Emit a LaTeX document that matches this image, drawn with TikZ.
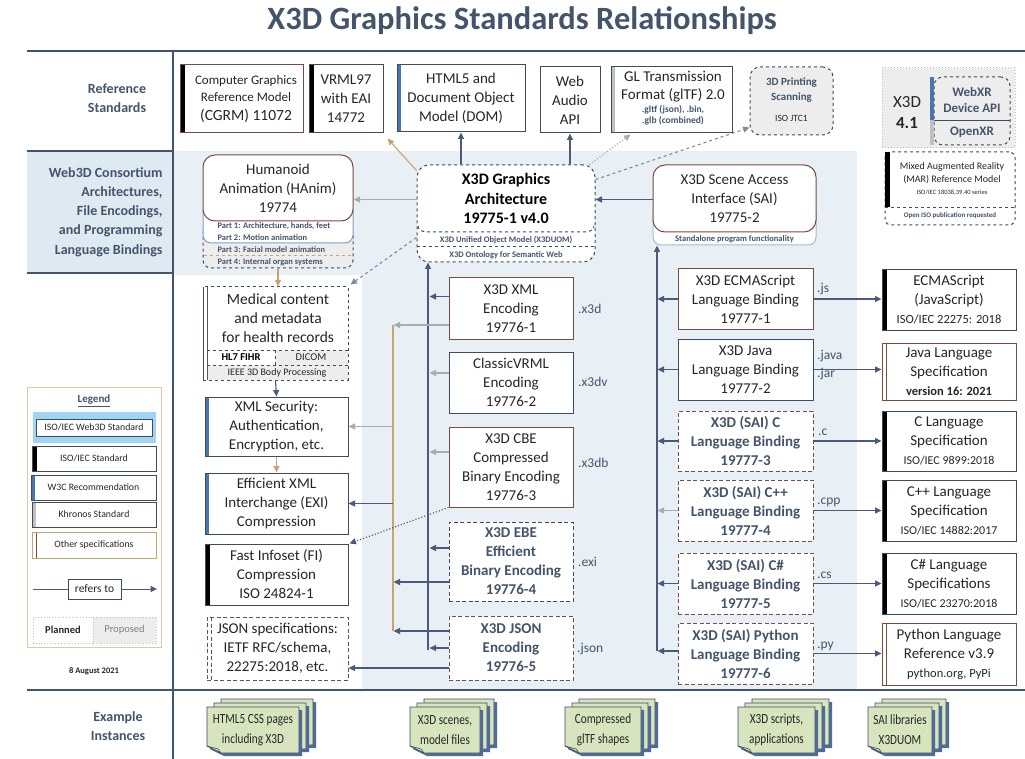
\documentclass[tikz,border=0pt]{standalone}
\usepackage{fontspec}
\setmainfont{Carlito}
\newfontfamily\condf[FakeStretch=0.8]{Carlito}
\usetikzlibrary{arrows.meta,calc}
\definecolor{slate}{HTML}{44546A}
\definecolor{bordc}{HTML}{3F4B63}
\definecolor{brownc}{HTML}{7A4B3F}
\definecolor{bgblue}{HTML}{E8F0F5}
\definecolor{lblue}{HTML}{DEE9F1}
\definecolor{arrB}{HTML}{4A5A78}
\definecolor{arrG}{HTML}{A9ADB3}
\definecolor{arrO}{HTML}{C9A46C}
\definecolor{w3cb}{HTML}{4A76A8}
\definecolor{khrg}{HTML}{C0C0C0}
\definecolor{grayfill}{HTML}{EDEDED}
\definecolor{greenf}{HTML}{D7E4BD}
\definecolor{shad}{HTML}{4E6C99}
\definecolor{txtc}{HTML}{262626}
\definecolor{skyb}{HTML}{A0D4F5}
\newcommand{\fsz}[2]{\fontsize{#1}{#2}\selectfont}
\newcommand{\docstack}[6]{%
 \foreach \dx/\dy in {14/-8,7/-4,0/0}{
  \fill[shad] ({#2+\dx+3},{#3+\dy+3}) -- ++(#4,0) -- ++(0,#5) -- ({#2+\dx+17},{#3+\dy+3+#5}) -- ({#2+\dx+3},{#3+\dy+#5-4}) -- cycle;
  \filldraw[fill=greenf, draw=bordc, line width=0.7pt] ({#2+\dx},{#3+\dy}) -- ++(#4,0) -- ++(0,#5) -- ({#2+\dx+14},{#3+\dy+#5}) -- ({#2+\dx},{#3+\dy+#5-7}) -- cycle;
  \draw[bordc, line width=0.6pt] ({#2+\dx},{#3+\dy+#5-7}) -- ({#2+\dx+11},{#3+\dy+#5-4}) -- ({#2+\dx+14},{#3+\dy+#5});
 }
 \node[font=\condf\fsz{14}{20}, text=txtc, align=center] (#1) at ({#2+#4/2},{#3+#5/2}) {#6};
}
\begin{document}
\begin{tikzpicture}[x=1pt,y=-1pt,
 box/.style={draw=bordc, line width=1pt, fill=white, align=center, inner sep=0pt, font=\fsz{15}{19}, text=txtc},
 dbox/.style={box, dashed, dash pattern=on 4pt off 2.5pt},
 bb/.style={font=\bfseries\fsz{15}{19}, text=slate},
 isobar/.style={path picture={\fill[black] (path picture bounding box.north west) rectangle ([xshift=5pt]path picture bounding box.south west);}},
 w3cbar/.style={path picture={\fill[w3cb] (path picture bounding box.north west) rectangle ([xshift=4pt]path picture bounding box.south west);}},
 khrbar/.style={path picture={\fill[khrg] (path picture bounding box.north west) rectangle ([xshift=4pt]path picture bounding box.south west);}},
 otherbar/.style={path picture={\draw[brownc, line width=0.9pt] ([xshift=4pt]path picture bounding box.north west) -- ([xshift=4pt]path picture bounding box.south west);}},
 lbl/.style={font=\bfseries\fsz{14}{19.2}, text=slate, align=center},
 sm/.style={font=\bfseries\fsz{8.5}{10}, text=slate},
 ext/.style={font=\fsz{13.5}{16}, text=slate, anchor=west, inner sep=0pt},
 arr/.style={-{Triangle[length=6.5pt,width=6pt]}, line width=1.1pt},
 aB/.style={arr, color=arrB},
 aG/.style={arr, color=arrG},
 aO/.style={arr, color=arrO}]
\useasboundingbox (0,0) rectangle (1025,759);
\fill[white] (0,0) rectangle (1025,759);
% backgrounds
\fill[lblue] (27,151) rectangle (173,273);
\fill[bgblue] (173,151) rectangle (857,275);
\fill[bgblue] (362,275) rectangle (857,690);
% frame
\draw[slate, line width=1.8pt] (27,51) -- (1025,51);
\draw[slate, line width=1.8pt] (173,51) -- (173,759);
\draw[slate, line width=1.5pt] (27,151) -- (173,151);
\draw[slate, line width=1.5pt] (27,273) -- (173,273);
\draw[slate, line width=1.8pt] (27,690) -- (1025,690);
% title and row labels
\node[font=\bfseries\fsz{32.5}{38}, text=slate] (title) at (522,21) {X3D Graphics Standards Relationships};
\node[lbl] (lref) at (117,98) {Reference\\Standards};
\node[lbl, align=right, anchor=east] (lweb) at (166,212) {Web3D Consortium\\Architectures,\\File Encodings,\\and Programming\\Language Bindings};
\node[lbl] (lex) at (118,726) {Example\\Instances};

% ---------- reference standards
\node[box, isobar, draw=brownc, minimum width=123, minimum height=68] (cgrm) at (241.5,99) {};
\node[font=\fsz{13}{15}, text=txtc] (cgrm1) at (246,81) {Computer Graphics};
\node[font=\fsz{13}{15}, text=txtc] (cgrm2) at (246,97) {Reference Model};
\node[font=\fsz{15.5}{19}, text=txtc] (cgrm3) at (246,116) {(CGRM) 11072};
\node[box, isobar, minimum width=74, minimum height=68] (vrml) at (346,99) {VRML97\\with EAI\\14772};
\node[box, w3cbar, minimum width=128, minimum height=67] (html) at (461,98.5) {HTML5 and\\Document Object\\Model (DOM)};
\node[box, minimum width=60, minimum height=66] (audio) at (570,100) {Web\\Audio\\API};
\node[box, khrbar, minimum width=121, minimum height=66] (gltf) at (671.5,100) {};
\node[font=\fsz{15}{19}, text=txtc] (gltf1) at (673,76) {GL Transmission};
\node[font=\fsz{15}{19}, text=txtc] (gltf2) at (673,95) {Format (glTF) 2.0};
\node[font=\bfseries\fsz{9.5}{11}, text=slate] (gltf3) at (673,110) {.gltf (json), .bin,};
\node[font=\bfseries\fsz{9.5}{11}, text=slate] (gltf4) at (673,121) {.glb (combined)};
\node[box, dashed, rounded corners=10pt, fill=grayfill, minimum width=83, minimum height=68] (print3d) at (791.5,101) {};
\node[font=\bfseries\fsz{11}{13}, text=slate] (pr1) at (791.5,83) {3D Printing};
\node[font=\bfseries\fsz{11}{13}, text=slate] (pr2) at (791.5,98) {Scanning};
\node[font=\fsz{9.5}{11}, text=txtc] (pr3) at (791.5,118) {ISO JTC1};
% X3D 4.1 group
\node[draw=khrg, dotted, line width=1pt, fill=grayfill, minimum width=133, minimum height=80, inner sep=0pt] (x41) at (948.5,108) {};
\node[font=\fsz{17}{21}, text=txtc, align=center] (x41t) at (907,113) {X3D\\\textbf{4.1}};
\node[draw=bordc, dashed, line width=1pt, rounded corners=9pt, fill=grayfill, minimum width=76, minimum height=68, inner sep=0pt] (webxr) at (972,111) {};
\fill[w3cb] (930,77) rectangle (934,120);
\fill[khrg] (930,120) rectangle (934,145);
\draw[bordc, line width=0.6pt] (934,120) -- (1010,120);
\node[font=\bfseries\fsz{13}{16}, text=slate, align=center] (webxr1) at (972,100) {WebXR\\Device API};
\node[font=\bfseries\fsz{13}{16}, text=slate] (openxr) at (972,132) {OpenXR};
\node[draw=bordc, dashed, line width=1pt, rounded corners=6pt, fill=white, minimum width=130, minimum height=73, inner sep=0pt] (mar) at (950,188.5) {};
\fill[black] (885,152) rectangle (890,207);
\draw[bordc, dashed, line width=0.8pt] (885,207) -- (1015,207);
\node[font=\fsz{10}{12}, text=txtc] (mar1) at (952,167) {Mixed Augmented Reality};
\node[font=\fsz{10}{12}, text=txtc] (mar2) at (952,180) {(MAR) Reference Model};
\node[font=\fsz{6.5}{8}, text=txtc] (mar3) at (952,193) {ISO/IEC 18038,39,40 series};
\node[font=\bfseries\fsz{7}{8}, text=slate] (mar4) at (950,216) {Open ISO publication requested};

% ---------- Web3D row
\node[draw=bordc, dashed, line width=1pt, fill=grayfill, rounded corners=8pt, minimum width=150, minimum height=43, inner sep=0pt] (hparts) at (278,246.5) {};
\draw[arrO, dashed, line width=0.8pt] (204,255) -- (352,255);
\node[draw=w3cb!70, line width=1pt, fill=white, rounded corners=8pt, minimum width=150, minimum height=40, inner sep=0pt] (hparts2) at (278,223) {};
\node[box, rounded corners=12pt, draw=brownc, minimum width=150, minimum height=66] (hanim) at (278,188) {Humanoid\\Animation (HAnim)\\19774};
\node[sm, anchor=west] (hp1) at (214,226) {Part 1: Architecture, hands, feet};
\node[sm, anchor=west] (hp2) at (214,238) {Part 2: Motion animation};
\node[sm, anchor=west] (hp3) at (214,250) {Part 3: Facial model animation};
\node[sm, anchor=west] (hp4) at (214,262) {Part 4: Internal organ systems};

\node[box, dashed, rounded corners=12pt, minimum width=178, minimum height=97] (arch) at (506,213.5) {};
\node[font=\bfseries\fsz{16}{19.5}, text=black, align=center] (archt) at (506,198.5) {X3D Graphics\\Architecture\\19775-1 v4.0};
\draw[bordc, dashed, line width=1pt] (418,226) to[out=-90,in=180] (428,232) -- (584,232) to[out=0,in=-90] (594,226);
\draw[bordc, dashed, line width=1pt] (417,247) -- (595,247);
\node[sm] (arch1) at (506,240) {X3D Unified Object Model (X3DUOM)};
\node[sm] (arch2) at (506,255) {X3D Ontology for Semantic Web};

\node[draw=w3cb!50, line width=1pt, fill=white, rounded corners=8pt, minimum width=163, minimum height=40, inner sep=0pt] (saib) at (734.5,225) {};
\node[box, rounded corners=12pt, draw=brownc, minimum width=163, minimum height=67] (sai) at (734.5,198.5) {X3D Scene Access\\Interface (SAI)\\19775-2};
\node[sm] (sai1) at (734.5,239) {Standalone program functionality};

% ---------- left column
\node[box, dashed, minimum width=145, minimum height=93] (med) at (275.5,333.5) {};
\fill[grayfill] (275,350) rectangle (348,365);
\fill[grayfill] (207,365) rectangle (348,380);
\draw[bordc, dashed, line width=0.8pt] (207,350) -- (348,350);
\draw[bordc, dashed, line width=0.8pt] (207,365) -- (348,365);
\draw[bordc, dashed, line width=0.8pt] (275,350) -- (275,365);
\draw[bordc, line width=1pt] (203,287) -- (203,380);
\draw[brownc, line width=1pt] (207,287) -- (207,380);
\node[font=\fsz{15.5}{19}, text=txtc, align=center] (medt) at (278,318) {Medical content\\and metadata\\for health records};
\node[font=\bfseries\fsz{10.5}{12}, text=black] (hl7) at (241,357.5) {HL7 FIHR};
\node[font=\fsz{10.5}{12}, text=txtc] (dicom) at (311,357.5) {DICOM};
\node[font=\fsz{10}{12}, text=txtc] (ieee) at (277,373) {IEEE 3D Body Processing};

\node[box, w3cbar, minimum width=143, minimum height=59] (xmlsec) at (276.5,426.5) {XML Security:\\Authentication,\\Encryption, etc.};
\node[box, w3cbar, minimum width=143, minimum height=61] (exi) at (276.5,503.5) {Efficient XML\\Interchange (EXI)\\Compression};
\node[box, isobar, minimum width=143, minimum height=61] (fi) at (276.5,574.5) {Fast Infoset (FI)\\Compression\\ISO 24824-1};
\node[dbox, otherbar, draw=brownc, minimum width=141, minimum height=63] (jsonspec) at (277.5,648.5) {JSON specifications:\\IETF RFC/schema,\\22275:2018, etc.};

% ---------- encodings
\node[box, draw=brownc, minimum width=124, minimum height=61] (xmlenc) at (511,308.5) {X3D XML\\Encoding\\19776-1};
\node[box, minimum width=124, minimum height=61] (vrmlenc) at (511,382.5) {ClassicVRML\\Encoding\\19776-2};
\node[box, draw=brownc, minimum width=124, minimum height=80] (cbe) at (511,467) {X3D CBE\\Compressed\\Binary Encoding\\19776-3};
\node[dbox, bb, minimum width=124, minimum height=79] (ebe) at (511,561.5) {X3D EBE\\Efficient\\Binary Encoding\\19776-4};
\node[dbox, bb, draw=brownc, minimum width=124, minimum height=64] (jsonenc) at (511,648) {X3D JSON\\Encoding\\19776-5};
\node[ext] (e1) at (578,309) {.x3d};
\node[ext] (e2) at (578,382) {.x3dv};
\node[ext] (e3) at (578,463) {.x3db};
\node[ext] (e4) at (578,562) {.exi};
\node[ext] (e5) at (577,649) {.json};

% ---------- bindings
\node[box, draw=brownc, minimum width=135, minimum height=60] (ecma) at (745.5,299) {X3D ECMAScript\\Language Binding\\19777-1};
\node[box, minimum width=135, minimum height=61] (javab) at (745.5,369.5) {X3D Java\\Language Binding\\19777-2};
\node[dbox, bb, draw=brownc, minimum width=135, minimum height=60] (cb) at (745.5,441) {X3D (SAI) C\\Language Binding\\19777-3};
\node[dbox, bb, draw=brownc, minimum width=135, minimum height=61] (cppb) at (745.5,510.5) {X3D (SAI) C++\\Language Binding\\19777-4};
\node[dbox, bb, draw=brownc, minimum width=135, minimum height=61] (csb) at (745.5,583.5) {X3D (SAI) C\#\\Language Binding\\19777-5};
\node[dbox, bb, draw=brownc, minimum width=135, minimum height=61] (pyb) at (745.5,653.5) {X3D (SAI) Python\\Language Binding\\19777-6};
\node[ext] (b1) at (817,289) {.js};
\node[ext] (b2) at (817,356) {.java};
\node[ext] (b2b) at (817,374) {.jar};
\node[ext] (b3) at (818,432) {.c};
\node[ext] (b4) at (817,502) {.cpp};
\node[ext] (b5) at (817,575) {.cs};
\node[ext] (b6) at (817,646) {.py};

% ---------- language specs
\node[box, isobar, minimum width=134, minimum height=60] (ecmas) at (949,300) {ECMAScript\\(JavaScript)\\{\fsz{12.5}{15}ISO/IEC 22275: 2018}};
\node[box, otherbar, draw=brownc, minimum width=134, minimum height=57] (javas) at (949,371.5) {Java Language\\Specification\\{\bfseries\fsz{12.5}{15}version 16: 2021}};
\node[box, isobar, minimum width=134, minimum height=60] (cs) at (949,441) {C Language\\Specification\\{\fsz{12}{15}ISO/IEC 9899:2018}};
\node[box, isobar, minimum width=134, minimum height=61] (cpps) at (949,510.5) {C++ Language\\Specification\\{\fsz{12}{15}ISO/IEC 14882:2017}};
\node[box, isobar, minimum width=134, minimum height=61] (css) at (949,583.5) {C\# Language\\Specifications\\{\fsz{12}{15}ISO/IEC 23270:2018}};
\node[box, otherbar, draw=brownc, minimum width=134, minimum height=62] (pys) at (949,654) {Python Language\\Reference v3.9\\{\fsz{12.5}{15}python.org, PyPi}};

% ---------- legend
\node[draw=arrO!60, line width=0.8pt, minimum width=134, minimum height=260, inner sep=0pt] (legend) at (94,517) {};
\node[font=\bfseries\fsz{11}{13}, text=slate] (legt) at (94,401) {\underline{Legend}};
\node[fill=skyb, minimum width=123, minimum height=31, inner sep=0pt] (lgw) at (94.5,427.5) {};
\node[draw=bordc, line width=0.8pt, fill=white, minimum width=116, minimum height=17, inner sep=0pt, font=\fsz{9.8}{11}, text=txtc] (lgw2) at (94,427.5) {ISO/IEC Web3D Standard};
\node[box, isobar, line width=0.8pt, font=\fsz{9.8}{11}, minimum width=124, minimum height=25] (lgi) at (94,458.5) {ISO/IEC Standard};
\node[box, w3cbar, line width=0.8pt, font=\fsz{9.8}{11}, minimum width=125, minimum height=25] (lgc) at (93.5,487.5) {W3C Recommendation};
\node[box, khrbar, line width=0.8pt, font=\fsz{9.8}{11}, minimum width=124, minimum height=25] (lgk) at (94,514.5) {Khronos Standard};
\node[box, otherbar, draw=arrO, line width=0.8pt, font=\fsz{9.8}{11}, minimum width=124, minimum height=26] (lgo) at (94,545) {Other specifications};
\coordinate (lgra) at (33,589);
\coordinate (lgrb) at (157,589);
\node[box, line width=0.8pt, font=\fsz{11.5}{13}, minimum width=53, minimum height=20] (lgr) at (94.5,589) {refers to};
\draw[arrB, line width=1pt] (lgra) -- (lgr);
\draw[aB, line width=1pt] (lgr) -- (lgrb);
\node[draw=khrg, dotted, line width=0.8pt, fill=white, minimum width=60, minimum height=26, inner sep=0pt, font=\bfseries\fsz{10.5}{12}, text=txtc] (lgp) at (63,630) {Planned};
\node[draw=khrg, dotted, line width=0.8pt, fill=grayfill, minimum width=63, minimum height=26, inner sep=0pt, font=\fsz{10.5}{12}, text=gray] (lgq) at (124.5,630) {Proposed};
\node[font=\bfseries\fsz{8.5}{10}, text=txtc] (date) at (94,671) {8 August 2021};

% ---------- connectors
\draw[aO] ($(arch.north west)+(0,6)$) -- ($(vrml.south east)+(4,5)$);
\draw[aB] (arch.north -| html.south) -- (html.south);
\draw[aB] (arch.north -| audio.south) -- (audio.south);
\draw[aG, dotted, line width=1.3pt] ($(arch.north east)+(-6,0)$) -- ($(gltf.south west)+(20,1)$);
\draw[aB, dashed, color=arrB!70] ($(arch.north east)+(0,15)$) -- ($(print3d.south west)+(0,-8)$);
\draw[aG] ($(arch.north west)+(0,35)$) -- ($(hanim.north east)+(0,45)$);
\draw[aB] ($(sai.north west)+(0,35)$) -- ($(arch.north east)+(0,35)$);
\draw[aB, dashed, color=arrB!70] ($(arch.south west)+(0,-25)$) -- ($(med.north east)+(2,-2)$);
\draw[aO] (hparts.south) -- (hparts.south |- med.north);
\draw[aB] (med.south) -- (xmlsec.north);
\draw[aO] (xmlsec.south) -- (exi.north);
% encodings bus to architecture
\coordinate (busA) at (428,650);
\draw[aB] (busA) -- (busA |- arch.south);
\draw[aB] ([yshift=12pt]xmlenc.west) -- ++(-19,0);
\draw[aG] ([yshift=9.5pt]vrmlenc.west) -- ++(-19,0);
\draw[aG] ([yshift=15pt]cbe.west) -- ++(-19,0);
\draw[aB] ([yshift=13.5pt]ebe.west) -- ++(-19,0);
\draw[aB] (jsonenc.west) -- ++(-19,0);
% orange bus to XML-related specs
\coordinate (obusT) at (393,325);
\coordinate (obusB) at (393,631);
\draw[arrO, line width=1.1pt] (obusT) -- (obusB);
\draw[aG] ([yshift=-16.5pt]xmlenc.west) -- ++(-55,0);
\draw[aB] ([yshift=-20.5pt]ebe.west) -- ++(-55,0);
\draw[aB] ([yshift=17pt]jsonenc.west) -- ++(-55,0);
\draw[aG] (obusT |- xmlsec.east) -- (xmlsec.east);
\draw[aB] (obusT |- exi.east) -- (exi.east);
\draw[aB, dotted, line width=1.2pt] (cbe.south west) -- ($(fi.north east)+(1,0)$);
\draw[aB] ([yshift=-20pt]jsonenc.west) -- ++(-100,0);
% bindings bus to SAI
\coordinate (sbus) at (657,651);
\draw[aB] (sbus) -- (sbus |- saib.south);
\draw[aB] (ecma.west) -- ++(-20,0);
\draw[aB] (javab.west) -- ++(-20,0);
\draw[aB] (cb.west) -- ++(-20,0);
\draw[aG] (cppb.west) -- ++(-20,0);
\draw[aB] (csb.west) -- ++(-20,0);
\draw[aB] ([yshift=2.5pt]pyb.west) -- ++(-20,0);
% bindings to language specs
\draw[aB] (ecma.east) -- (ecma.east -| ecmas.west);
\draw[aB] (javab.east) -- (javab.east -| javas.west);
\draw[aB] (cb.east) -- (cb.east -| cs.west);
\draw[aB] (cppb.east) -- (cppb.east -| cpps.west);
\draw[aB] (csb.east) -- (csb.east -| css.west);
\draw[aB] (pyb.east) -- (pyb.east -| pys.west);

% ---------- example instances
\docstack{ex1}{207}{707}{92}{46}{HTML5 CSS pages\\including X3D}
\docstack{ex2}{410}{707}{70}{46}{X3D scenes,\\model files}
\docstack{ex3}{565}{707}{76}{46}{Compressed\\glTF shapes}
\docstack{ex4}{738}{707}{77}{46}{X3D scripts,\\applications}
\docstack{ex5}{868}{707}{64}{46}{SAI libraries\\X3DUOM}
\end{tikzpicture}
\end{document}
